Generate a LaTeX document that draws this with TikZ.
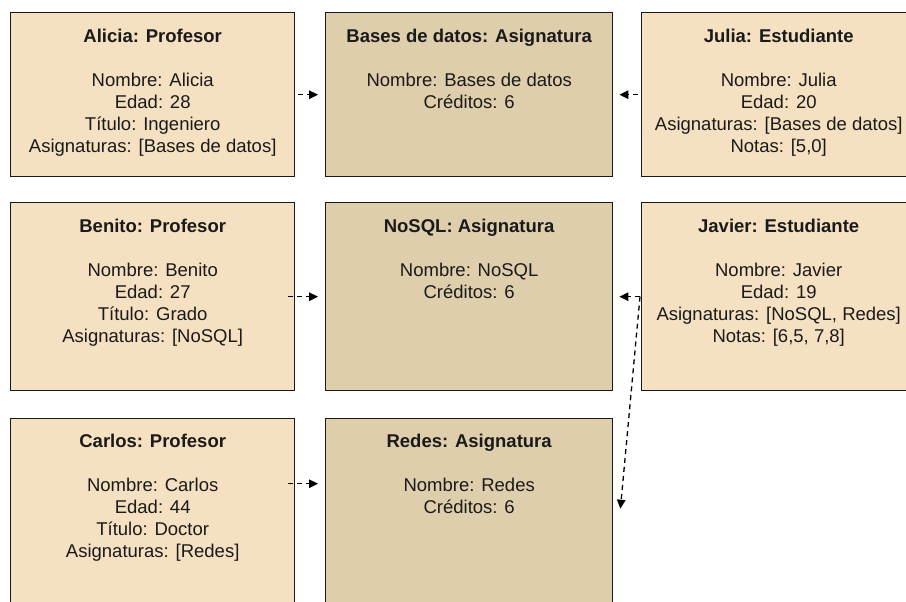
\documentclass[tikz,border=0pt]{standalone}
\usepackage{fontspec}
\setmainfont{Liberation Sans}
\usetikzlibrary{arrows.meta}
\definecolor{persona}{RGB}{245,225,193}
\definecolor{materia}{RGB}{222,206,171}
\definecolor{tinta}{RGB}{26,26,26}
\newcommand{\hdr}{\rule{0pt}{13pt}}
\begin{document}
\begin{tikzpicture}[x=1pt,y=-1pt,
  caja/.style={draw=black!90, line width=1.4pt, anchor=north west, inner sep=0pt},
  estud/.style={caja, fill=persona},
  asig/.style={caja, fill=materia},
  texto/.style={anchor=north, inner sep=0pt, align=center, text=tinta,
    font=\fontsize{18.5}{22}\selectfont},
  dep/.style={dashed, dash pattern=on 5pt off 4pt, line width=1.3pt, black,
    -{Triangle[length=9pt,width=8.5pt]}}
]
\useasboundingbox (0,0) rectangle (906,602);
\clip (0,0) rectangle (906,602);

% profesores
\node[estud, minimum width=284pt, minimum height=164pt] (alicia) at (10,12) {};
\node[estud, minimum width=284pt, minimum height=188pt] (benito) at (10,202) {};
\node[estud, minimum width=284pt, minimum height=188pt] (carlos) at (10,418) {};
% asignaturas
\node[asig, minimum width=287pt, minimum height=164pt] (bases) at (325,12) {};
\node[asig, minimum width=287pt, minimum height=188pt] (nosql) at (325,202) {};
\node[asig, minimum width=287pt, minimum height=188pt] (redes) at (325,418) {};
% estudiantes
\node[estud, minimum width=274pt, minimum height=164pt] (julia) at (641,12) {};
\node[estud, minimum width=274pt, minimum height=188pt] (javier) at (641,202) {};

% contenido de cada objeto
\node[texto] (alicia-t) at ([yshift=-16.5pt]alicia.north)
  {\hdr\textbf{Alicia: Profesor}\\[22pt]Nombre: Alicia\\Edad: 28\\Título: Ingeniero\\Asignaturas: [Bases de datos]};
\node[texto] (benito-t) at ([yshift=-16.5pt]benito.north)
  {\hdr\textbf{Benito: Profesor}\\[22pt]Nombre: Benito\\Edad: 27\\Título: Grado\\Asignaturas: [NoSQL]};
\node[texto] (carlos-t) at ([yshift=-16pt]carlos.north)
  {\hdr\textbf{Carlos: Profesor}\\[22pt]Nombre: Carlos\\Edad: 44\\Título: Doctor\\Asignaturas: [Redes]};
\node[texto] (bases-t) at ([yshift=-16.5pt]bases.north)
  {\hdr\textbf{Bases de datos: Asignatura}\\[22pt]Nombre: Bases de datos\\Créditos: 6};
\node[texto] (nosql-t) at ([yshift=-16.5pt]nosql.north)
  {\hdr\textbf{NoSQL: Asignatura}\\[22pt]Nombre: NoSQL\\Créditos: 6};
\node[texto] (redes-t) at ([yshift=-16pt]redes.north)
  {\hdr\textbf{Redes: Asignatura}\\[22pt]Nombre: Redes\\Créditos: 6};
\node[texto] (julia-t) at ([yshift=-16.5pt]julia.north)
  {\hdr\textbf{Julia: Estudiante}\\[22pt]Nombre: Julia\\Edad: 20\\Asignaturas: [Bases de datos]\\Notas: [5,0]};
\node[texto] (javier-t) at ([yshift=-16.5pt]javier.north)
  {\hdr\textbf{Javier: Estudiante}\\[22pt]Nombre: Javier\\Edad: 19\\Asignaturas: [NoSQL, Redes]\\Notas: [6,5, 7,8]};

% dependencias
\draw[dep, shorten <=3pt, shorten >=7pt] (alicia.east) -- (bases.west);
\draw[dep, shorten <=-7pt, shorten >=7pt] (benito.east) -- (nosql.west);
\draw[dep, shorten <=-7pt, shorten >=7pt] ([yshift=29pt]carlos.east) -- ([yshift=29pt]redes.west);
\draw[dep, shorten <=3pt, shorten >=6pt] (julia.west) -- (bases.east);
\draw[dep, shorten <=1pt, shorten >=6pt] (javier.west) -- (nosql.east);
\draw[dep] ([xshift=-1pt]javier.west) -- ([xshift=7pt,yshift=4pt]redes.east);
\end{tikzpicture}
\end{document}
